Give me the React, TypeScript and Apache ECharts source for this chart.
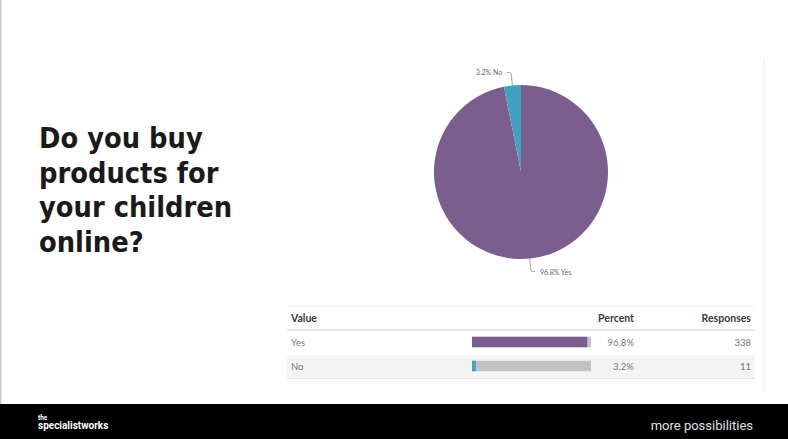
import React, { useEffect, useRef } from "react";
import * as echarts from "echarts";

const categories = ["Yes", "No"];
const responses = [338, 11];
const percents = [96.8, 3.2];
const percentLabels = ["96.8%", "3.2%"];
const colors = ["#7b5e8e", "#3fa2c3"];
const titleLines = ["Do you buy", "products for", "your children", "online?"];

export default function App() {
  const ref = useRef<HTMLDivElement>(null);
  useEffect(() => {
    if (!ref.current) return;
    const chart = echarts.init(ref.current, undefined, { renderer: "svg" });
    const rowY = [342, 366];
    const graphics: any[] = [
      { type: "rect", shape: { x: 0, y: 0, width: 1.5, height: 404 }, style: { fill: "#c8c8c8" } },
      { type: "rect", shape: { x: 763.5, y: 58, width: 1, height: 334 }, style: { fill: "#ececec" } },
      // table lines
      { type: "rect", shape: { x: 287, y: 305.5, width: 468, height: 1 }, style: { fill: "#f0f0f0" } },
      { type: "rect", shape: { x: 287, y: 329, width: 468, height: 2 }, style: { fill: "#e6e6e6" } },
      { type: "rect", shape: { x: 287, y: 355, width: 468, height: 23 }, style: { fill: "#f4f4f4" } },
      { type: "rect", shape: { x: 287, y: 378, width: 468, height: 1 }, style: { fill: "#e6e6e6" } },
      { type: "text", x: 291, y: 318, style: { text: "Value", font: "bold 10.5px Lato", fill: "#3a3a3a", textVerticalAlign: "middle" } },
      { type: "text", x: 634, y: 318, style: { text: "Percent", font: "bold 10.5px Lato", fill: "#3a3a3a", textAlign: "right", textVerticalAlign: "middle" } },
      { type: "text", x: 751, y: 318, style: { text: "Responses", font: "bold 10.5px Lato", fill: "#3a3a3a", textAlign: "right", textVerticalAlign: "middle" } },
      // footer
      { type: "rect", shape: { x: 0, y: 404, width: 788, height: 35 }, style: { fill: "#000" } },
      { type: "text", x: 38, y: 417.5, style: { text: "the", font: "bold 6.5px Roboto", lineHeight: 6, fill: "#fff", textVerticalAlign: "middle" } },
      { type: "text", x: 38, y: 425.5, style: { text: "specialistworks", font: "bold 10px Roboto", lineHeight: 9, fill: "#fff", textVerticalAlign: "middle" } },
      { type: "text", x: 753, y: 425, style: { text: "more possibilities", font: "13px Roboto", fill: "#e0e0e0", textAlign: "right", textVerticalAlign: "middle" } },
      {
        type: "text",
        x: 39,
        y: 120.75,
        style: {
          text: titleLines.join("\n"),
          font: "bold 28.7px 'DejaVu Sans Condensed'",
          lineHeight: 34.5,
          fill: "#1a1a1a",
          textVerticalAlign: "top",
        },
      },
    ];
    categories.forEach((c, i) => {
      graphics.push({ type: "text", x: 291, y: rowY[i], style: { text: c, font: "9.5px Lato", fill: "#777", textVerticalAlign: "middle" } });
      graphics.push({ type: "text", x: 634, y: rowY[i], style: { text: percentLabels[i], font: "9.5px Lato", fill: "#777", textAlign: "right", textVerticalAlign: "middle" } });
      graphics.push({ type: "text", x: 751, y: rowY[i], style: { text: String(responses[i]), font: "9.5px Lato", fill: "#777", textAlign: "right", textVerticalAlign: "middle" } });
    });

    chart.setOption({
      animation: false,
      backgroundColor: "#fff",
      graphic: graphics,
      grid: { left: 472, top: 330, width: 119, height: 48, containLabel: false },
      xAxis: { type: "value", min: 0, max: 100, show: false },
      yAxis: { type: "category", data: categories, inverse: true, show: false },
      series: [
        {
          type: "pie",
          center: [521, 172],
          radius: 87,
          startAngle: 90,
          percentPrecision: 1,
          data: categories.map((c, i) => ({ name: c, value: responses[i], itemStyle: { color: colors[i] } })),
          label: {
            show: true,
            formatter: "{d}% {b}",
            fontSize: 7,
            fontFamily: "Lato",
            color: "#666",
          },
          labelLine: { show: true, length: 13, length2: 4, smooth: true, lineStyle: { color: "#888", width: 0.8 } },
          emphasis: { disabled: true },
        },
        {
          type: "bar",
          data: categories.map((c, i) => ({ value: percents[i], itemStyle: { color: colors[i] } })),
          barWidth: 10.5,
          showBackground: true,
          backgroundStyle: { color: "#c2c2c2" },
        },
      ],
    });
    return () => chart.dispose();
  }, []);
  return <div ref={ref} style={{ position: "fixed", left: 0, top: 0, width: 788, height: 439 }} />;
}
